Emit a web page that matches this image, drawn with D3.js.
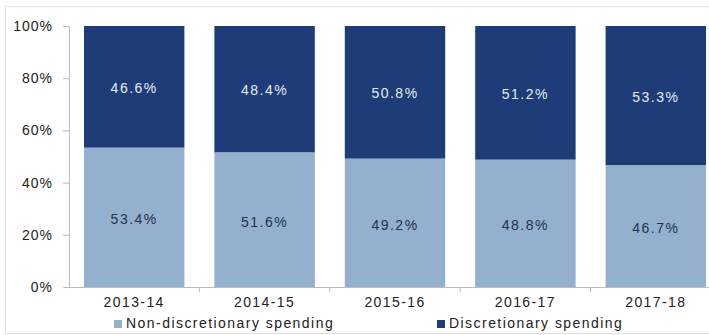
<!DOCTYPE html>
<html>
<head>
<meta charset="UTF-8" />
<script src="https://d3js.org/d3.v7.min.js"></script>
<style>
  body { margin: 0; background: #fff; }
  text { font-family: "Liberation Sans", Arial, sans-serif; }
</style>
</head>
<body>
<svg id="chart" width="709" height="335"></svg>
<script>
// data
const years = ["2013-14", "2014-15", "2015-16", "2016-17", "2017-18"]
const nonDisc = [53.4, 51.6, 49.2, 48.8, 46.7]
const disc = [46.6, 48.4, 50.8, 51.2, 53.3]
const yTicks = [0, 20, 40, 60, 80, 100]
const seriesNames = ["Non-discretionary spending", "Discretionary spending"]

const lightBlue = "#93b1cf"
const darkBlue = "#1d3c78"

const svg = d3.select("#chart")

// outer frame
svg.append("rect").attr("x", 5.5).attr("y", 6.5).attr("width", 720).attr("height", 327)
  .attr("fill", "none").attr("stroke", "#e2e2e2")

const x = d3.scaleBand().domain(years).range([69, 721]).paddingInner(0.23).paddingOuter(0.115)
const y = d3.scaleLinear().domain([0, 100]).range([287, 26])

// y axis
const yAxis = d3.axisLeft(y).tickValues(yTicks).tickFormat(d => d + "%").tickSize(6).tickPadding(10)
const yG = svg.append("g").attr("transform", "translate(69,0)").call(yAxis)
yG.select(".domain").attr("stroke", "#bbb")
yG.selectAll(".tick line").attr("stroke", "#bbb")
yG.selectAll("text").attr("font-size", 14).attr("fill", "#222").attr("letter-spacing", 1)

// x axis line + ticks between categories
svg.append("line").attr("x1", 69).attr("x2", 721).attr("y1", 287.5).attr("y2", 287.5).attr("stroke", "#bbb")
const step = x.step()
years.forEach((yr, i) => {
  const bx = x(yr) - x.paddingInner() * step / 2
  if (i > 0) svg.append("line").attr("x1", bx).attr("x2", bx).attr("y1", 287).attr("y2", 292).attr("stroke", "#bbb")
})

// bars
const g = svg.append("g")
years.forEach((yr, i) => {
  const cx = x(yr) + x.bandwidth() / 2
  g.append("rect").attr("x", x(yr)).attr("width", x.bandwidth())
    .attr("y", y(nonDisc[i])).attr("height", y(0) - y(nonDisc[i])).attr("fill", lightBlue)
  g.append("rect").attr("x", x(yr)).attr("width", x.bandwidth())
    .attr("y", y(100)).attr("height", y(nonDisc[i]) - y(100)).attr("fill", darkBlue)
  g.append("text").attr("x", cx).attr("y", y(nonDisc[i] / 2) + 7)
    .attr("text-anchor", "middle").attr("font-size", 14).attr("letter-spacing", 1.5)
    .attr("fill", "#263247").text(nonDisc[i].toFixed(1) + "%")
  g.append("text").attr("x", cx).attr("y", y(nonDisc[i] + disc[i] / 2) + 6)
    .attr("text-anchor", "middle").attr("font-size", 14).attr("letter-spacing", 1.5)
    .attr("fill", "#e6eaf2").text(disc[i].toFixed(1) + "%")
  svg.append("text").attr("x", cx).attr("y", 307)
    .attr("text-anchor", "middle").attr("font-size", 14).attr("letter-spacing", 1.4)
    .attr("fill", "#222").text(yr)
})

// legend
const legend = [[114, lightBlue], [437, darkBlue]]
legend.forEach((l, i) => {
  svg.append("rect").attr("x", l[0]).attr("y", 320).attr("width", 8).attr("height", 8).attr("fill", l[1])
  svg.append("text").attr("x", l[0] + 12).attr("y", 328).attr("font-size", 14).attr("fill", "#222")
    .attr("letter-spacing", 1.45).text(seriesNames[i])
})
</script>
</body>
</html>
